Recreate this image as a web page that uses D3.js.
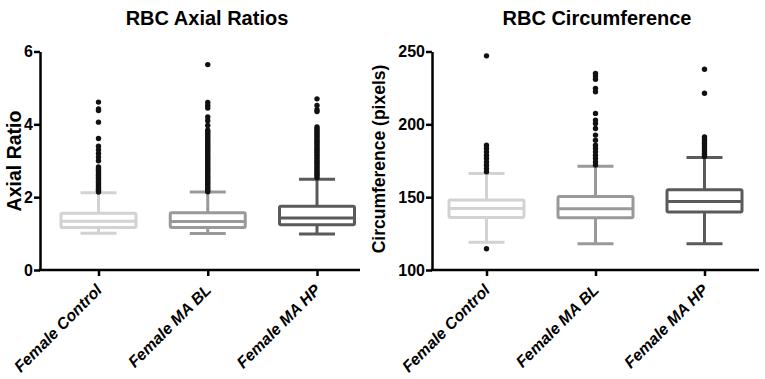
<!DOCTYPE html>
<html>
<head>
<meta charset="utf-8">
<script src="https://cdn.jsdelivr.net/npm/d3@7"></script>
<style>
  body { margin: 0; background: #fff; }
  svg { display: block; font-family: "Liberation Sans", Arial, sans-serif; }
</style>
</head>
<body>
<svg id="chart" width="765" height="379"></svg>
<script>
// groups on both panels
const categories = ["Female Control", "Female MA BL", "Female MA HP"];
const boxColors = ["#d2d2d2", "#999999", "#5a5a5a"];

// box stats: [low whisker, q1, median, q3, high whisker]
const axialBoxes = [
  [1.01, 1.17, 1.34, 1.56, 2.12],
  [1.0, 1.17, 1.33, 1.57, 2.14],
  [0.99, 1.24, 1.43, 1.75, 2.49]
];
const axialOutliers = [
  [4.61, 4.42, 4.38, 4.06, 3.61, 3.4, 3.3, 3.2, 3.1, 3.0, 2.83, 2.79, 2.74, 2.69, 2.64,
   2.6, 2.55, 2.5, 2.46, 2.41, 2.36, 2.32, 2.27, 2.22, 2.18, 2.14],
  [5.64, 4.6, 4.52, 4.45, 4.2, 4.1, 3.97, 3.84, 3.79, 3.74, 3.69, 3.64, 3.59, 3.54, 3.49,
   3.44, 3.39, 3.34, 3.29, 3.24, 3.19, 3.14, 3.09, 3.04, 2.99, 2.94, 2.89, 2.84, 2.79,
   2.74, 2.69, 2.64, 2.59, 2.54, 2.49, 2.44, 2.39, 2.34, 2.29, 2.24, 2.19, 2.15],
  [4.7, 4.52, 4.4, 4.35, 3.93, 3.88, 3.83, 3.78, 3.73, 3.68, 3.63, 3.58, 3.53, 3.48, 3.43,
   3.38, 3.33, 3.28, 3.23, 3.18, 3.13, 3.08, 3.03, 2.98, 2.93, 2.88, 2.83, 2.78, 2.73,
   2.68, 2.63, 2.58, 2.53]
];

const circBoxes = [
  [119.0, 136.0, 142.3, 148.0, 166.2],
  [118.0, 135.8, 142.1, 150.4, 171.2],
  [118.0, 139.9, 147.1, 155.1, 177.2]
];
const circOutliers = [
  [247.0, 114.6, 185.7, 183.4, 181.1, 178.8, 176.5, 174.2, 171.9, 169.6, 167.5],
  [235.0, 233.2, 230.9, 224.7, 222.4, 207.5, 202.9, 200.6, 197.1, 192.6, 189.1, 185.7,
   183.4, 181.1, 178.8, 176.5, 174.2, 172.0],
  [237.8, 221.3, 191.4, 190.0, 188.6, 187.0, 185.5, 184.0, 182.5, 181.0, 179.5, 178.0]
];

const axialTicks = [0, 2, 4, 6];
const circTicks = [100, 150, 200, 250];

const svg = d3.select("#chart");

function drawPanel(opt) {
  const g = svg.append("g");
  const y = d3.scaleLinear().domain(opt.yDomain).range([270, 51.5]);
  const x = d3.scalePoint().domain(categories).range(opt.xRange);

  // title
  g.append("text")
    .attr("x", opt.titleX)
    .attr("y", 25)
    .attr("text-anchor", "middle")
    .attr("font-size", "20px")
    .attr("font-weight", "bold")
    .text(opt.title);

  // y label
  g.append("text")
    .attr("transform", "translate(" + opt.yLabelX + "," + opt.yLabelY + ") rotate(-90)")
    .attr("text-anchor", "middle")
    .attr("font-size", opt.yLabelSize)
    .attr("font-weight", "bold")
    .text(opt.yLabel);

  // boxes
  const box = g.selectAll(".box")
    .data(opt.boxes)
    .enter()
    .append("g")
    .attr("class", "box")
    .attr("stroke", (d, i) => boxColors[i])
    .attr("stroke-width", 3)
    .attr("fill", "none");

  const bw = 75, cw = 36;
  const cx = (d, i) => x(categories[i]);

  box.append("line") // upper whisker
    .attr("x1", cx).attr("x2", cx)
    .attr("y1", d => y(d[3])).attr("y2", d => y(d[4]));
  box.append("line") // lower whisker
    .attr("x1", cx).attr("x2", cx)
    .attr("y1", d => y(d[1])).attr("y2", d => y(d[0]));
  box.append("line")
    .attr("x1", (d, i) => cx(d, i) - cw / 2).attr("x2", (d, i) => cx(d, i) + cw / 2)
    .attr("y1", d => y(d[4])).attr("y2", d => y(d[4]));
  box.append("line")
    .attr("x1", (d, i) => cx(d, i) - cw / 2).attr("x2", (d, i) => cx(d, i) + cw / 2)
    .attr("y1", d => y(d[0])).attr("y2", d => y(d[0]));
  box.append("rect")
    .attr("x", (d, i) => cx(d, i) - bw / 2)
    .attr("width", bw)
    .attr("y", d => y(d[3]))
    .attr("height", d => y(d[1]) - y(d[3]))
    .attr("fill", "#fff")
    .attr("rx", 1.5)
    .attr("stroke-linejoin", "round");
  box.append("line") // median
    .attr("x1", (d, i) => cx(d, i) - bw / 2).attr("x2", (d, i) => cx(d, i) + bw / 2)
    .attr("y1", d => y(d[2])).attr("y2", d => y(d[2]));

  // outliers
  opt.outliers.forEach((pts, i) => {
    g.selectAll(null)
      .data(pts)
      .enter()
      .append("circle")
      .attr("cx", x(categories[i]))
      .attr("cy", d => y(d))
      .attr("r", 2.7)
      .attr("fill", "#111");
  });

  // y axis
  const yAxis = g.append("g")
    .attr("transform", "translate(" + opt.axisX + ",0)")
    .call(d3.axisLeft(y).tickValues(opt.ticks).tickFormat(d3.format("d")).tickSize(6).tickSizeOuter(0));
  yAxis.select(".domain").attr("stroke-width", 2.5);
  yAxis.selectAll(".tick line").attr("stroke-width", 2.5);
  yAxis.selectAll(".tick text")
    .attr("font-size", "16px")
    .attr("font-weight", "bold")
    .attr("font-family", "Liberation Sans, Arial, sans-serif")
    .attr("fill", "#000")
    .attr("dx", "2px");

  // x axis
  const xAxis = g.append("g")
    .attr("transform", "translate(0,270)")
    .call(d3.axisBottom(x).tickSize(6).tickSizeOuter(0));
  xAxis.select(".domain")
    .attr("d", "M" + (opt.axisX - 1.25) + ",0H" + opt.axisEnd)
    .attr("stroke-width", 2.5);
  xAxis.selectAll(".tick line").attr("stroke-width", 2.5);
  xAxis.selectAll(".tick text")
    .attr("font-size", "16px")
    .attr("font-weight", "bold")
    .attr("font-style", "italic")
    .attr("font-family", "Liberation Sans, Arial, sans-serif")
    .attr("fill", "#000")
    .attr("text-anchor", "end")
    .attr("y", 0)
    .attr("dy", 0)
    .attr("transform", "translate(4,21) rotate(-45)");
}

drawPanel({
  title: "RBC Axial Ratios", titleX: 207,
  yLabel: "Axial Ratio", yLabelX: 21, yLabelY: 161, yLabelSize: "19.5px",
  yDomain: [0, 6], ticks: axialTicks,
  xRange: [98.5, 317], axisX: 40, axisEnd: 360,
  boxes: axialBoxes, outliers: axialOutliers
});

drawPanel({
  title: "RBC Circumference", titleX: 597,
  yLabel: "Circumference (pixels)", yLabelX: 385, yLabelY: 159, yLabelSize: "17.5px",
  yDomain: [100, 250], ticks: circTicks,
  xRange: [486.5, 704.5], axisX: 432, axisEnd: 759,
  boxes: circBoxes, outliers: circOutliers
});
</script>
</body>
</html>
